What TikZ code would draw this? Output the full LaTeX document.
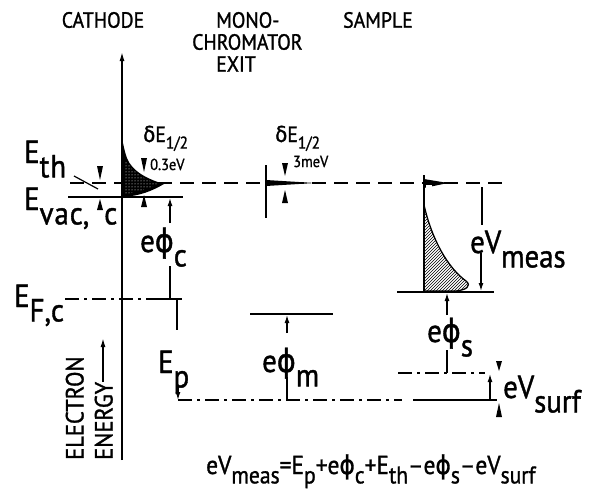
\documentclass[tikz,border=0pt]{standalone}
\usepackage{fontspec}
\setmainfont{PT Sans}[FakeStretch=0.9,FakeBold=1.2]
\newfontfamily\grk{DejaVu Sans}[FakeStretch=0.9,FakeBold=1.2]
\usetikzlibrary{arrows.meta,patterns}
\newcommand\phic{{\grk ϕ}}
\newcommand\bs[1]{\raisebox{-0.45em}{\fontsize{32}{33}\selectfont #1}}
\newcommand\es[1]{\raisebox{-0.36em}{\fontsize{24}{25}\selectfont #1}}
\newcommand\smsub[1]{\raisebox{-0.3em}{\fontsize{17}{18}\selectfont #1}}
\begin{document}
\begin{tikzpicture}[x=1pt,y=-1pt,
  lvl/.style={line width=1.8pt},
  dd/.style={line width=1.6pt, dash pattern=on 14pt off 8pt},
  dashdot/.style={line width=1.6pt, dash pattern=on 14pt off 5pt on 3pt off 5pt},
  arr/.style={line width=1.3pt,-{Latex[length=8pt,width=5pt]}},
  stem/.style={line width=1.3pt},
  hdr/.style={font=\fontsize{22}{24}\selectfont, inner sep=0},
  big/.style={font=\fontsize{32}{34}\selectfont, inner sep=0, anchor=base west},
  eqs/.style={font=\fontsize{26}{28}\selectfont, inner sep=0, anchor=base west},
  small/.style={font=\fontsize{16}{17}\selectfont, inner sep=0, anchor=base west},
  mid/.style={font=\fontsize{22}{24}\selectfont, inner sep=0, anchor=base west},
  tri/.style={fill=black}]
\useasboundingbox (0,0) rectangle (603,493);
% headers
\node[hdr] (cath) at (103,20) {CATHODE};
\node[hdr,anchor=west] (mono1) at (216,20) {MONO-};
\node[hdr,anchor=west] (mono2) at (192,42) {CHROMATOR};
\node[hdr,anchor=west] (mono3) at (216,64) {EXIT};
\node[hdr] (samp) at (378,20) {SAMPLE};
% energy axis
\coordinate (axb) at (122,460);
\coordinate (axt) at (122,52);
\draw[line width=1.4pt,-{Latex[length=9pt,width=5pt]}] (axb) -- (axt);
% electron energy label
\node[font=\fontsize{25}{27}\selectfont, inner sep=0, rotate=90, anchor=south west] (el1) at (84,460) {ELECTRON};
\node[font=\fontsize{25}{27}\selectfont, inner sep=0, rotate=90, anchor=south west] (el2) at (113,460) {ENERGY};
\coordinate (ea1) at (103,382); \coordinate (ea2) at (103,338);
\draw[line width=1.5pt,-{Latex[length=9pt,width=5pt]}] (ea1) -- (ea2);
% levels
\coordinate (th1) at (70,183); \coordinate (th2) at (508,183);
\draw[dd] (th1) -- (th2);
\coordinate (vac1) at (68,197); \coordinate (vac2) at (183,197);
\draw[lvl] (vac1) -- (vac2);
\coordinate (ef1) at (65,299); \coordinate (ef2) at (160,299); \coordinate (ef3) at (182,299);
\draw[dashdot] (ef1) -- (ef2);
\draw[lvl] (ef2) -- (ef3);
\coordinate (bt1) at (178,400); \coordinate (bt2) at (402,400); \coordinate (bt3) at (413,400); \coordinate (bt4) at (497,400);
\draw[dashdot] (bt1) -- (bt2);
\draw[lvl] (bt3) -- (bt4);
\coordinate (m1) at (250,314); \coordinate (m2) at (333,314);
\draw[lvl] (m1) -- (m2);
\coordinate (s1) at (397,292); \coordinate (s2) at (494,292);
\draw[lvl] (s1) -- (s2);
\coordinate (sf1) at (398,373); \coordinate (sf2) at (485,373);
\draw[dashdot] (sf1) -- (sf2);
% cathode distribution
\fill[black] (122,197) .. controls (140,196) and (152,191) .. (164,184)
  .. controls (150,180) and (132,172) .. (127,158)
  .. controls (124,150) and (123,142) .. (122,138) -- cycle;
\fill[pattern=dots, pattern color=white] (124,194) .. controls (140,192) and (150,188) .. (158,184)
  .. controls (146,180) and (132,172) .. (127,162) -- (124,162) -- cycle;
% monochromator peak
\coordinate (mv1) at (266,165); \coordinate (mv2) at (266,218);
\draw[stem] (mv1) -- (mv2);
\fill[black] (266,180) -- (315,183) -- (266,186) -- cycle;
% sample distribution
\coordinate (sv1) at (424,175); \coordinate (sv2) at (424,292);
\draw[pattern=north east lines, line width=1.3pt] (424,205) .. controls (432,240) and (448,268) .. (466,281)
  .. controls (472,286) and (466,290) .. (456,291) -- (424,291) -- cycle;
\draw[stem] (sv1) -- (sv2);
\fill[black] (424,179) -- (448,183) -- (424,188) -- cycle;
\fill[white] (426,185) rectangle (432,188);
% markers
\fill[tri] (97,166) -- (103,166) -- (100,180) -- cycle;
\fill[tri] (97,210) -- (103,210) -- (100,199) -- cycle;
\coordinate (l1) at (74,176); \coordinate (l2) at (98,189);
\draw[line width=1.2pt] (l1) -- (l2);
\fill[tri] (141,158) -- (147,158) -- (144,172) -- cycle;
\fill[tri] (141,207) -- (147,207) -- (144,195) -- cycle;
\fill[tri] (282,163) -- (288,163) -- (285,176) -- cycle;
\fill[tri] (282,203) -- (288,203) -- (285,190) -- cycle;
\fill[tri] (496,361) -- (502,361) -- (499,371) -- cycle;
\fill[tri] (496,417) -- (502,417) -- (499,403) -- cycle;
% arrows
\coordinate (pc1) at (170,223); \coordinate (pc2) at (170,198);
\draw[arr] (pc1) -- (pc2);
\coordinate (pc3) at (170,266); \coordinate (pc4) at (170,299);
\draw[stem] (pc3) -- (pc4);
\coordinate (ep1) at (177,299); \coordinate (ep2) at (177,330);
\draw[stem] (ep1) -- (ep2);
\coordinate (ep3) at (178,386); \coordinate (ep4) at (178,400);
\draw[arr] (ep3) -- (ep4);
\coordinate (pm1) at (287,333); \coordinate (pm2) at (287,315);
\draw[arr] (pm1) -- (pm2);
\coordinate (pm3) at (287,377); \coordinate (pm4) at (287,400);
\draw[stem] (pm3) -- (pm4);
\coordinate (ps1) at (447,315); \coordinate (ps2) at (447,293);
\draw[arr] (ps1) -- (ps2);
\coordinate (ps3) at (447,350); \coordinate (ps4) at (447,373);
\draw[stem] (ps3) -- (ps4);
\coordinate (vm1) at (482,187); \coordinate (vm2) at (482,225);
\draw[stem] (vm1) -- (vm2);
\coordinate (vm3) at (481,253); \coordinate (vm4) at (481,291);
\draw[arr] (vm3) -- (vm4);
\coordinate (vs1) at (490,400); \coordinate (vs2) at (490,374);
\draw[arr] (vs1) -- (vs2);
% labels
\node[big] (Eth) at (24,163) {E\bs{t\kern1pt h}};
\node[big] (Evac) at (24,210) {E\bs{v\kern1pt a\kern1pt c,\kern15pt c}};
\node[big] (EF) at (14,307) {E\bs{F,c}};
\node[big] (phic) at (140,252) {e\phic\bs{c}};
\node[big] (Ep) at (158,373) {E\bs{p}};
\node[big] (phim) at (262,372) {e\phic\bs{m}};
\node[big] (phis) at (427,342) {e\phic\bs{s}};
\node[big] (Vmeas) at (470,253) {eV\bs{meas}};
\node[big] (Vsurf) at (503,398) {eV\bs{surf}};
\node[mid] (dE1) at (143,142) {{\grk δ}E\smsub{1/2}};
\node[small] (w1) at (150,170) {0.3eV};
\node[mid] (dE2) at (275,142) {{\grk δ}E\smsub{1/2}};
\node[small] (w2) at (293,167) {3meV};
\node[eqs] (eqn) at (206,474) {eV\es{meas}=E\es{p}+e\phic\es{c}+E\es{th}–e\phic\es{s}–eV\es{surf}};
\end{tikzpicture}
\end{document}
